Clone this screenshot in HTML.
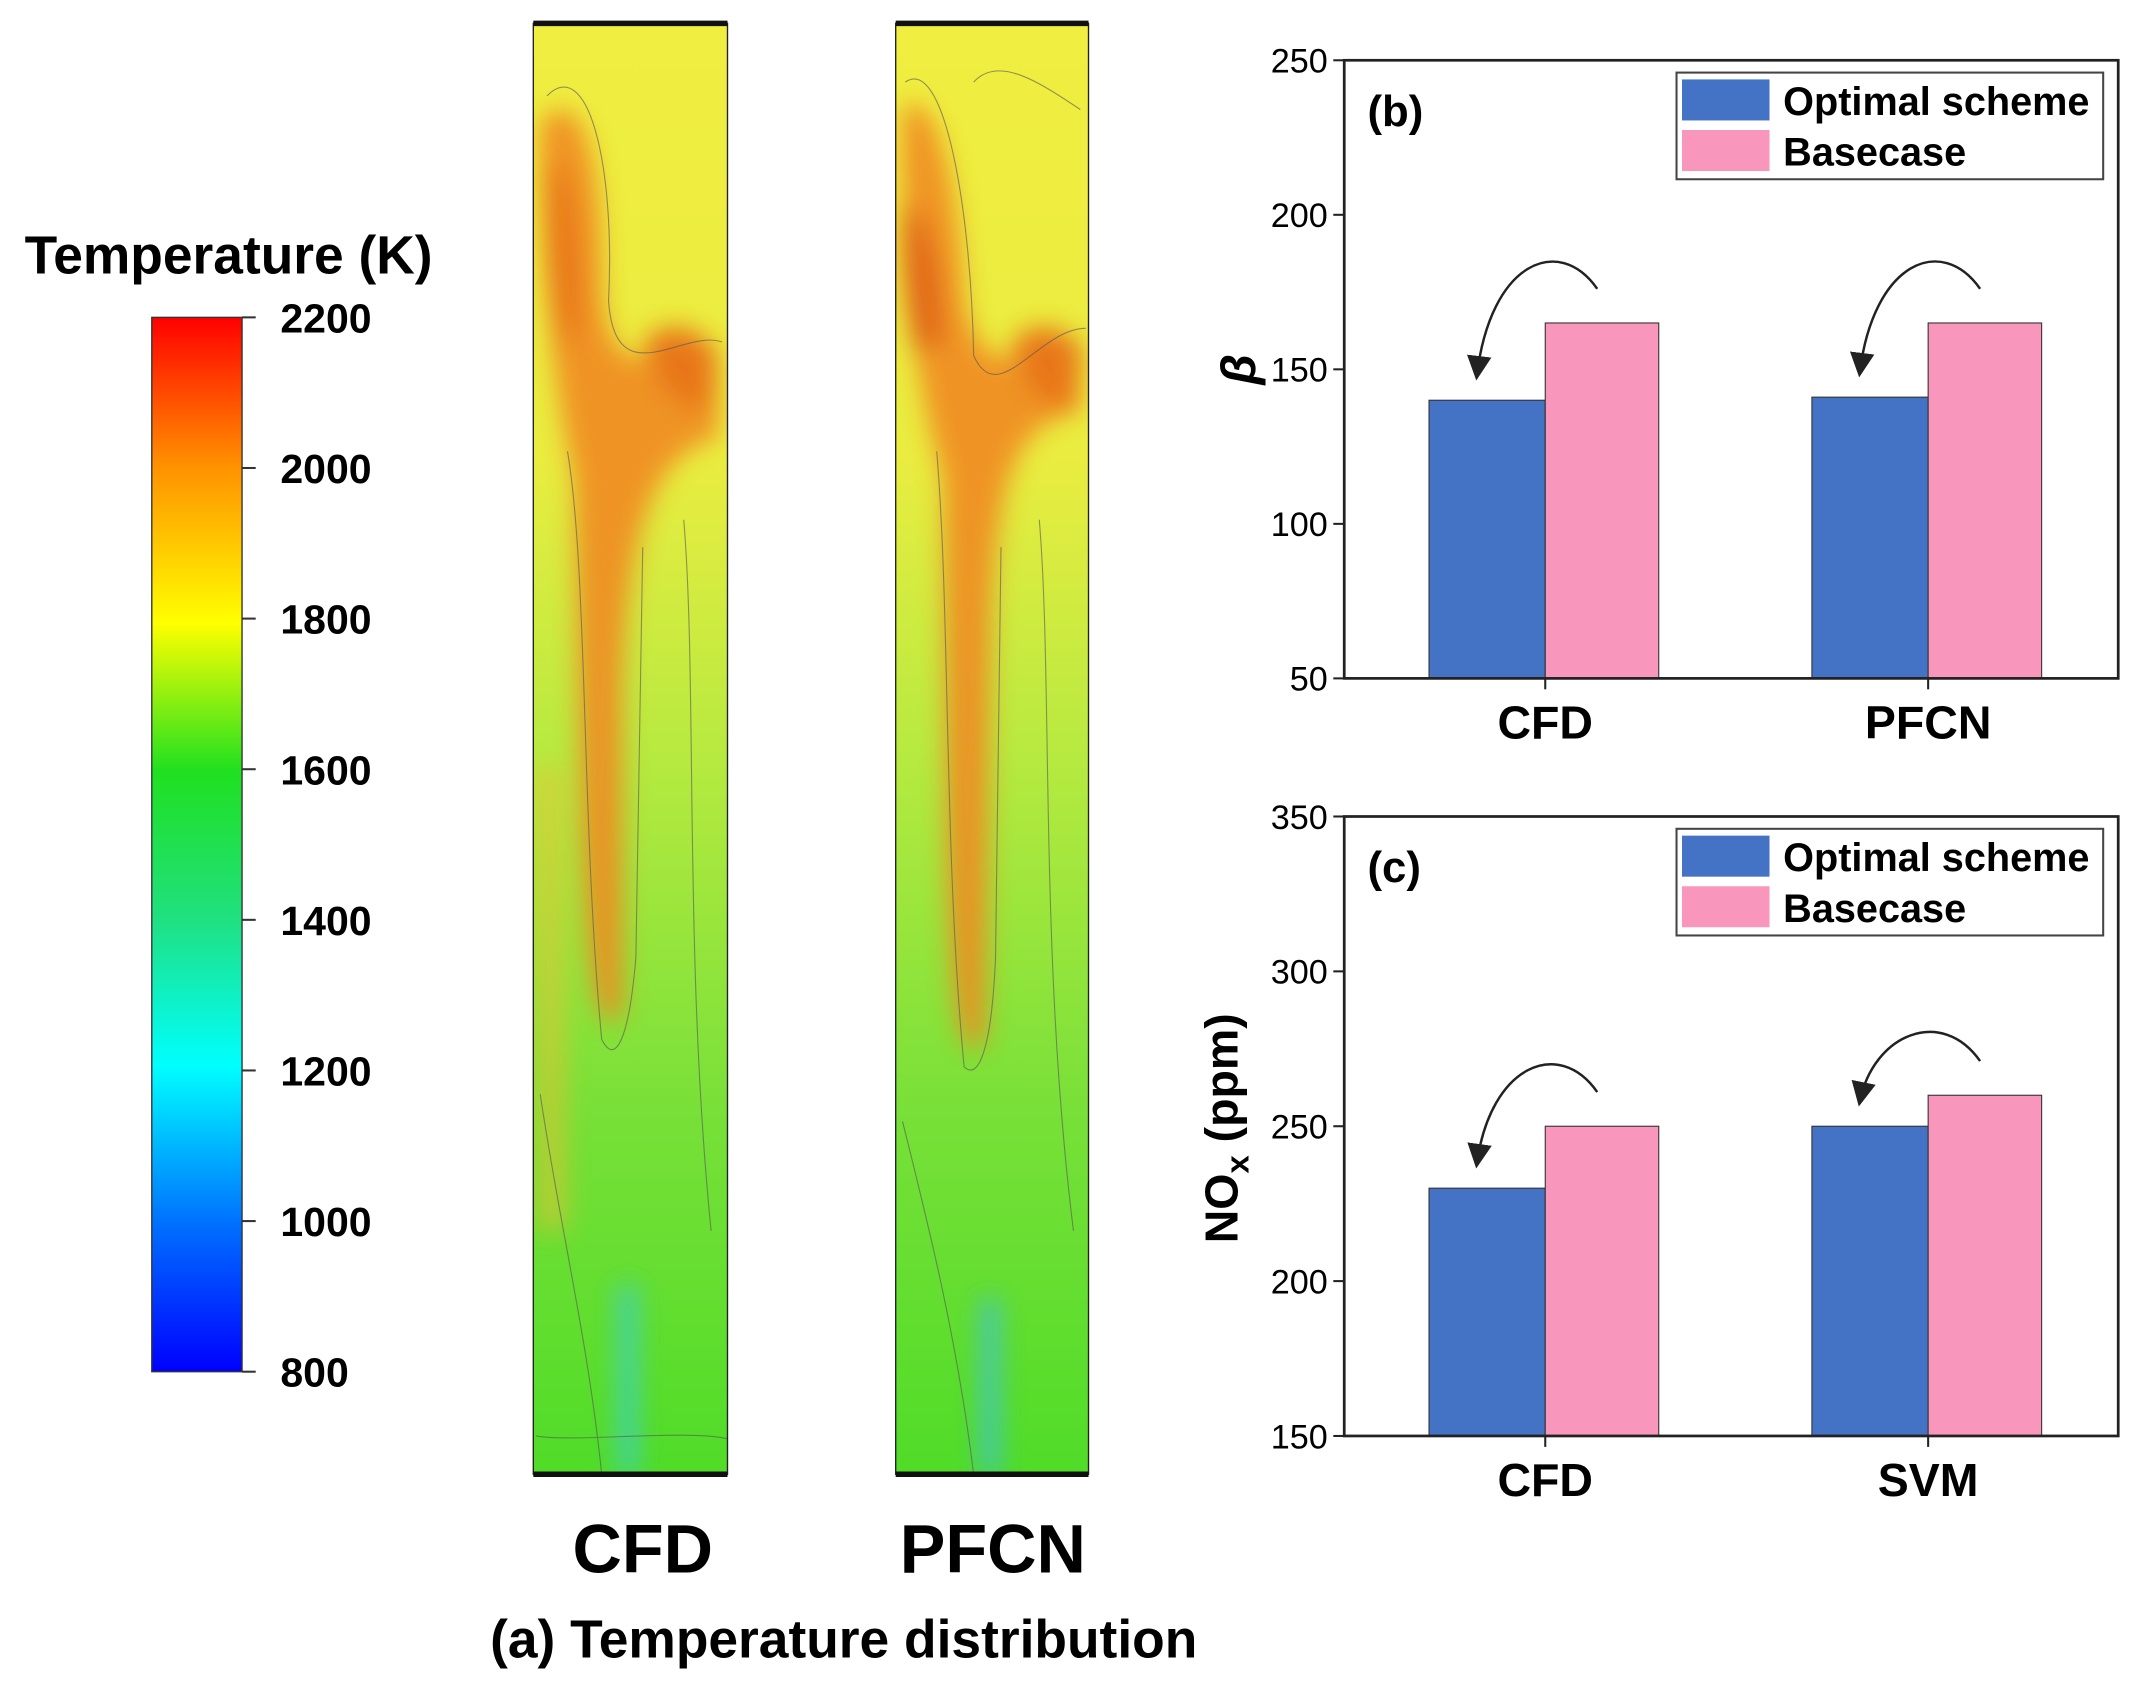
<!DOCTYPE html>
<html><head><meta charset="utf-8"><style>
html,body{margin:0;padding:0;background:#fff}
svg{display:block;font-family:"Liberation Sans",Arial,sans-serif}
</style></head><body>
<svg id="fig" width="2136" height="1700" viewBox="0 0 1562 1243" xmlns="http://www.w3.org/2000/svg">
<defs>
<linearGradient id="jet" x1="0" y1="1" x2="0" y2="0">
<stop offset="0" stop-color="#0000ff"/>
<stop offset="0.14" stop-color="#0070ff"/>
<stop offset="0.29" stop-color="#00ffff"/>
<stop offset="0.43" stop-color="#20e080"/>
<stop offset="0.57" stop-color="#20e020"/>
<stop offset="0.71" stop-color="#ffff00"/>
<stop offset="0.86" stop-color="#ff9000"/>
<stop offset="1" stop-color="#ff0000"/>
</linearGradient>
<filter id="blur" x="-50%" y="-50%" width="200%" height="200%"><feGaussianBlur stdDeviation="9"/></filter>
<linearGradient id="fieldbase" x1="0" y1="0" x2="0" y2="1">
<stop offset="0" stop-color="#f0ee40"/>
<stop offset="0.3" stop-color="#eaec40"/>
<stop offset="0.5" stop-color="#b8ea40"/>
<stop offset="0.75" stop-color="#78e038"/>
<stop offset="1" stop-color="#50dc28"/>
</linearGradient>
<clipPath id="c1"><rect x="390" y="17" width="142" height="1061"/></clipPath>
<clipPath id="c2"><rect x="655" y="17" width="141" height="1061"/></clipPath>
<marker id="ah" markerWidth="10" markerHeight="10" refX="8" refY="5" orient="auto"><path d="M0,0 L10,5 L0,10 z" fill="#222"/></marker>
</defs>

<text x="18" y="200" font-size="39" font-weight="bold">Temperature (K)</text>
<rect x="111" y="232" width="66" height="771" fill="url(#jet)" stroke="#333" stroke-width="1"/>
<g id="cbticks" font-size="30" font-weight="bold"></g>

<g clip-path="url(#c1)">
<rect x="390" y="17" width="142" height="1061" fill="url(#fieldbase)"/>
<g filter="url(#blur)" opacity="0.9">
<path d="M395,90 C420,60 440,100 440,200 C440,300 500,250 525,260 L525,320 C480,330 460,380 455,500 L455,740 C440,760 430,740 425,600 L420,350 C405,280 395,200 395,90z" fill="#f08a20"/>
<path d="M400,120 C415,110 425,160 425,230 L415,260 C400,220 398,170 400,120z" fill="#e86a18"/>
<path d="M470,250 C490,230 515,240 525,260 L520,300 C500,300 480,290 470,250z" fill="#e86a18"/>
<path d="M392,560 L410,560 L415,900 L392,900z" fill="#f0c030" opacity="0.6"/>
<path d="M452,940 L466,940 L466,1078 L452,1078z" fill="#40d0c0"/>
</g>
<g fill="none" stroke="#555" stroke-width="0.8" opacity="0.6">
<path d="M400,70 C430,40 450,120 445,220 C450,290 500,240 528,250"/>
<path d="M415,330 C430,420 425,600 440,760 C450,780 460,760 465,700 L470,400"/>
<path d="M395,800 C410,900 430,980 440,1078"/>
<path d="M500,380 C510,500 500,700 520,900"/>
<path d="M392,1050 C420,1055 500,1045 532,1052"/>
</g>
</g>
<rect x="390" y="17" width="142" height="1061" fill="none" stroke="#222" stroke-width="1"/>
<line x1="390" y1="17" x2="532" y2="17" stroke="#111" stroke-width="4"/>
<line x1="390" y1="1078" x2="532" y2="1078" stroke="#111" stroke-width="4"/>

<g clip-path="url(#c2)">
<rect x="655" y="17" width="141" height="1061" fill="url(#fieldbase)"/>
<g filter="url(#blur)" opacity="0.9">
<path d="M660,80 C680,60 700,120 705,220 C720,290 760,250 790,250 L790,300 C750,310 730,330 725,450 L720,760 C705,780 695,760 692,600 L690,350 C670,280 658,200 660,80z" fill="#f08a20"/>
<path d="M660,150 C680,150 690,200 690,250 L670,260 C660,220 658,180 660,150z" fill="#e05818"/>
<path d="M740,250 C760,230 785,240 792,260 L785,300 C765,300 750,290 740,250z" fill="#e86a18"/>
<path d="M718,950 L730,950 L730,1078 L718,1078z" fill="#40c0e0"/>
</g>
<g fill="none" stroke="#555" stroke-width="0.8" opacity="0.6">
<path d="M662,60 C690,40 710,150 712,260 C730,300 760,240 794,240"/>
<path d="M685,330 C695,450 690,620 705,780 C715,790 725,770 728,700 L732,400"/>
<path d="M660,820 C680,900 700,980 712,1078"/>
<path d="M760,380 C770,500 760,700 785,900"/>
<path d="M712,60 C730,40 760,60 790,80"/>
</g>
</g>
<rect x="655" y="17" width="141" height="1061" fill="none" stroke="#222" stroke-width="1"/>
<line x1="655" y1="17" x2="796" y2="17" stroke="#111" stroke-width="4"/>
<line x1="655" y1="1078" x2="796" y2="1078" stroke="#111" stroke-width="4"/>

<text x="470" y="1150" font-size="50" font-weight="bold" text-anchor="middle">CFD</text>
<text x="726" y="1150" font-size="50" font-weight="bold" text-anchor="middle">PFCN</text>
<text x="617" y="1212" font-size="39" font-weight="bold" text-anchor="middle">(a) Temperature distribution</text>

<g id="chartb"></g>
<g id="chartc"></g>
</svg>
<script>
const NS="http://www.w3.org/2000/svg";
function mk(tag,attrs,parent,text){const e=document.createElementNS(NS,tag);for(const k in attrs)e.setAttribute(k,attrs[k]);if(text!==undefined)e.textContent=text;parent.appendChild(e);return e;}

const cbTicks=[800,1000,1200,1400,1600,1800,2000,2200];
const cbg=document.getElementById('cbticks');
cbTicks.forEach(v=>{const y=1003-(v-800)/1400*771;
 const l=mk('line',{x1:177,x2:187,y1:y,y2:y,stroke:'#333','stroke-width':1.5},cbg);
 
 
 const t=mk('text',{x:205,y:y+11},cbg,String(v));
 
 });

const bCats=['CFD','PFCN'];
const bOptimal=[140,141];
const bBase=[165,165];
const bTicks=[50,100,150,200,250];
const cCats=['CFD','SVM'];
const cOptimal=[230,250];
const cBase=[250,260];
const cTicks=[150,200,250,300,350];

function chart(id,top,bot,ymin,ymax,cats,opt,base,ticks,tag){
 const g=document.getElementById(id);
 const L=983,R=1549;
 const ys=v=>bot-(v-ymin)/(ymax-ymin)*(bot-top);
 const centers=[1130,1410];
 cats.forEach((c,i)=>{
  const cx=centers[i];
  const b1=mk('rect',{x:cx-85,y:ys(opt[i]),width:85,height:bot-ys(opt[i]),fill:'#4472c4',stroke:'#333','stroke-width':0.8},g);
  
  
  const b2=mk('rect',{x:cx,y:ys(base[i]),width:83,height:bot-ys(base[i]),fill:'#f896bc',stroke:'#333','stroke-width':0.8},g);
  
  
  const y1=ys(base[i]),y2=ys(opt[i]);
  const a=mk('path',{d:`M${cx+38},${y1-25} C${cx+10},${y1-65} ${cx-40},${y1-45} ${cx-50},${y2-18}`,fill:'none',stroke:'#222','stroke-width':1.8,'marker-end':'url(#ah)'},g);
  
  
  const t=mk('text',{x:cx,y:bot+44,'font-size':34,'font-weight':'bold','text-anchor':'middle'},g,c);
  
  
  const tk=mk('line',{x1:cx,x2:cx,y1:bot,y2:bot+8,stroke:'#222','stroke-width':1.5},g);
  
  
 });
 const fr=mk('rect',{x:L,y:top,width:R-L,height:bot-top,fill:'none',stroke:'#222','stroke-width':2},g);
 
 
 ticks.forEach(v=>{const y=ys(v);
  const l=mk('line',{x1:L-8,x2:L,y1:y,y2:y,stroke:'#222','stroke-width':1.5},g);
  
  
  const t=mk('text',{x:L-12,y:y+9,'font-size':25,'text-anchor':'end'},g,String(v));
  
  });
 const p=mk('text',{x:1000,y:top+48,'font-size':32,'font-weight':'bold'},g,tag);
 
 
 const lg=mk('g',{},g);
 
 
 mk('rect',{x:1226,y:top+9,width:312,height:78,fill:'#fff',stroke:'#444','stroke-width':1.5},lg);
 const s1=mk('rect',{x:1230,y:top+14,width:64,height:30,fill:'#4472c4'},lg);
 
 
 const s2=mk('rect',{x:1230,y:top+51,width:64,height:30,fill:'#f896bc'},lg);
 
 
 const l1=mk('text',{x:1304,y:top+40,'font-size':29,'font-weight':'bold'},lg,'Optimal scheme');
 
 
 const l2=mk('text',{x:1304,y:top+77,'font-size':29,'font-weight':'bold'},lg,'Basecase');
 
 
 return g;
}
const gb=chart('chartb',44,496,50,250,bCats,bOptimal,bBase,bTicks,'(b)');
const gc=chart('chartc',597,1050,150,350,cCats,cOptimal,cBase,cTicks,'(c)');
const yb=mk('text',{x:0,y:0,'font-size':36,'font-weight':'bold','font-style':'italic','text-anchor':'middle',transform:'translate(918,270) rotate(-90)'},gb,'β');


const yc=mk('text',{x:0,y:0,'font-size':34,'font-weight':'bold','text-anchor':'middle',transform:'translate(905,825) rotate(-90)'},gc);


yc.innerHTML='NO<tspan font-size="24" dy="8">x</tspan><tspan dy="-8"> (ppm)</tspan>';
</script>
</body></html>
